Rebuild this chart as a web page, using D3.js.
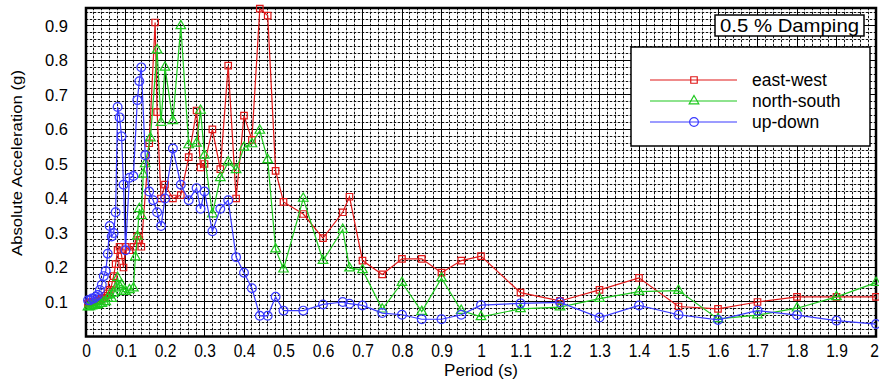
<!DOCTYPE html>
<html>
<head>
<meta charset="utf-8">
<script src="https://cdn.jsdelivr.net/npm/d3@7"></script>
<style>
  body { margin: 0; background: #fff; }
  text { font-family: "Liberation Sans", Arial, sans-serif; }
</style>
</head>
<body>
<div id="chart"></div>
<script>
"use strict";

// east-west
const ewPeriod = [0.005, 0.01, 0.015, 0.02, 0.025, 0.03, 0.035, 0.04, 0.045, 0.05, 0.055, 0.06, 0.065, 0.07, 0.075, 0.08, 0.085, 0.09, 0.095, 0.10, 0.11, 0.12, 0.13, 0.135, 0.14, 0.16, 0.175, 0.18, 0.19, 0.20, 0.22, 0.24, 0.26, 0.28, 0.29, 0.30, 0.32, 0.34, 0.36, 0.38, 0.40, 0.42, 0.44, 0.46, 0.48, 0.50, 0.55, 0.60, 0.65, 0.667, 0.70, 0.75, 0.80, 0.85, 0.90, 0.95, 1.0, 1.1, 1.2, 1.3, 1.4, 1.5, 1.6, 1.7, 1.8, 1.9, 2.0];
const ewAccel = [0.095, 0.098, 0.10, 0.10, 0.102, 0.105, 0.105, 0.11, 0.112, 0.118, 0.125, 0.135, 0.15, 0.175, 0.21, 0.25, 0.26, 0.235, 0.20, 0.26, 0.25, 0.26, 0.29, 0.28, 0.26, 0.56, 0.91, 0.65, 0.40, 0.44, 0.40, 0.41, 0.52, 0.655, 0.49, 0.50, 0.60, 0.485, 0.785, 0.40, 0.64, 0.57, 0.95, 0.93, 0.48, 0.39, 0.355, 0.285, 0.36, 0.405, 0.22, 0.18, 0.225, 0.225, 0.185, 0.22, 0.233, 0.127, 0.103, 0.135, 0.17, 0.087, 0.08, 0.10, 0.115, 0.115, 0.115];

// north-south
const nsPeriod = [0.005, 0.01, 0.015, 0.02, 0.025, 0.03, 0.035, 0.04, 0.045, 0.05, 0.055, 0.06, 0.065, 0.07, 0.075, 0.08, 0.085, 0.09, 0.095, 0.10, 0.11, 0.12, 0.125, 0.13, 0.135, 0.14, 0.145, 0.15, 0.163, 0.18, 0.19, 0.20, 0.22, 0.24, 0.26, 0.28, 0.29, 0.30, 0.32, 0.34, 0.36, 0.38, 0.40, 0.42, 0.44, 0.46, 0.48, 0.50, 0.55, 0.60, 0.65, 0.667, 0.70, 0.75, 0.80, 0.85, 0.90, 0.95, 1.0, 1.1, 1.2, 1.3, 1.4, 1.5, 1.6, 1.7, 1.8, 1.9, 2.0];
const nsAccel = [0.085, 0.086, 0.088, 0.09, 0.09, 0.092, 0.095, 0.095, 0.10, 0.10, 0.11, 0.12, 0.11, 0.125, 0.14, 0.17, 0.145, 0.15, 0.13, 0.13, 0.135, 0.14, 0.23, 0.29, 0.37, 0.35, 0.47, 0.50, 0.575, 0.83, 0.62, 0.78, 0.625, 0.90, 0.555, 0.56, 0.655, 0.525, 0.355, 0.46, 0.505, 0.483, 0.548, 0.558, 0.597, 0.512, 0.253, 0.195, 0.40, 0.22, 0.31, 0.198, 0.193, 0.079, 0.156, 0.072, 0.169, 0.075, 0.057, 0.08, 0.085, 0.11, 0.13, 0.133, 0.051, 0.062, 0.082, 0.115, 0.156];

// up-down
const udPeriod = [0.005, 0.01, 0.015, 0.02, 0.025, 0.03, 0.035, 0.04, 0.045, 0.05, 0.055, 0.06, 0.065, 0.07, 0.075, 0.08, 0.085, 0.09, 0.095, 0.10, 0.11, 0.12, 0.13, 0.135, 0.14, 0.15, 0.16, 0.17, 0.18, 0.19, 0.20, 0.22, 0.24, 0.26, 0.28, 0.29, 0.30, 0.32, 0.34, 0.36, 0.38, 0.40, 0.42, 0.44, 0.46, 0.48, 0.50, 0.55, 0.60, 0.65, 0.667, 0.70, 0.75, 0.80, 0.85, 0.90, 0.95, 1.0, 1.1, 1.2, 1.3, 1.4, 1.5, 1.6, 1.7, 1.8, 1.9, 2.0];
const udAccel = [0.105, 0.105, 0.11, 0.11, 0.115, 0.12, 0.135, 0.15, 0.175, 0.19, 0.24, 0.32, 0.29, 0.30, 0.36, 0.665, 0.635, 0.58, 0.44, 0.25, 0.46, 0.465, 0.685, 0.74, 0.78, 0.525, 0.42, 0.395, 0.36, 0.32, 0.40, 0.545, 0.44, 0.395, 0.43, 0.37, 0.42, 0.305, 0.37, 0.395, 0.23, 0.185, 0.14, 0.06, 0.06, 0.115, 0.075, 0.075, 0.093, 0.10, 0.095, 0.09, 0.068, 0.063, 0.05, 0.05, 0.063, 0.091, 0.096, 0.099, 0.055, 0.09, 0.063, 0.048, 0.075, 0.062, 0.046, 0.036];

const seriesNames = ["east-west", "north-south", "up-down"];
const xTickValues = d3.range(0, 2.001, 0.1);
const yTickValues = d3.range(0.1, 0.95, 0.1);

const svgWidth = 879;
const svgHeight = 382;
const mLeft = 86, mRight = 876, mTop = 8, mBottom = 336.5;

const svg = d3.select("#chart")
  .append("svg")
  .attr("width", svgWidth)
  .attr("height", svgHeight)
;

const xScale = d3.scaleLinear().domain([0, 2]).range([mLeft, mRight]);
const yScale = d3.scaleLinear().domain([0, 0.952]).range([mBottom, mTop]);

// grid: minor dashed every 0.02, major solid every 0.1
const isMajor = v => Math.abs(v * 10 - Math.round(v * 10)) < 1e-6;
const xMinor = d3.range(0.02, 2, 0.02).filter(v => !isMajor(v));
const yMinor = d3.range(0.02, 0.952, 0.02).filter(v => !isMajor(v));

const grid = svg.append("g").attr("shape-rendering", "crispEdges");

// gray base under black dashes, like the original's minor grid
["#c4c4c4", "#111"].forEach((col, k) => {
  grid.append("g").selectAll("line").data(xMinor).enter().append("line")
    .attr("x1", d => xScale(d)).attr("x2", d => xScale(d))
    .attr("y1", mTop).attr("y2", mBottom)
    .attr("stroke", col).attr("stroke-dasharray", k ? "2,2" : null).attr("stroke-width", 1)
  ;
  grid.append("g").selectAll("line").data(yMinor).enter().append("line")
    .attr("y1", d => yScale(d)).attr("y2", d => yScale(d))
    .attr("x1", mLeft).attr("x2", mRight)
    .attr("stroke", col).attr("stroke-dasharray", k ? "2,2" : null).attr("stroke-width", 1)
  ;
});
grid.selectAll(".xmajor").data(xTickValues.slice(1, -1)).enter().append("line")
  .attr("x1", d => xScale(d)).attr("x2", d => xScale(d))
  .attr("y1", mTop).attr("y2", mBottom)
  .attr("stroke", "#000").attr("stroke-width", 1)
;
grid.selectAll(".ymajor").data(yTickValues).enter().append("line")
  .attr("y1", d => yScale(d)).attr("y2", d => yScale(d))
  .attr("x1", mLeft).attr("x2", mRight)
  .attr("stroke", "#000").attr("stroke-width", 1)
;

// axes
const xAxis = d3.axisBottom(xScale).tickValues(xTickValues).tickSize(0).tickPadding(7)
  .tickFormat(d => d3.format("")(+d.toFixed(1)));
const yAxis = d3.axisLeft(yScale).tickValues(yTickValues).tickSize(0).tickPadding(18)
  .tickFormat(d3.format(".1f"));

const gx = svg.append("g")
  .attr("transform", `translate(0, ${mBottom})`)
  .call(xAxis)
;
gx.select(".domain").remove();
gx.selectAll("text")
  .attr("font-size", 19)
  .attr("fill", "#000")
  .attr("transform", (d, i) => i === xTickValues.length - 1 ? "translate(-2,0) scale(0.82,1)" : "scale(0.82,1)")
;

const gy = svg.append("g")
  .attr("transform", `translate(${mLeft}, 0)`)
  .call(yAxis)
;
gy.select(".domain").remove();
gy.selectAll("text").attr("font-size", 16.5).attr("fill", "#000");

// frame
svg.append("rect")
  .attr("x", mLeft).attr("y", mTop)
  .attr("width", mRight - mLeft).attr("height", mBottom - mTop)
  .attr("fill", "none").attr("stroke", "#000").attr("stroke-width", 2.5)
;

// series
const series = [
  { name: seriesNames[0], period: ewPeriod, accel: ewAccel, color: "#e01818", marker: "square" },
  { name: seriesNames[1], period: nsPeriod, accel: nsAccel, color: "#1ec81e", marker: "triangle" },
  { name: seriesNames[2], period: udPeriod, accel: udAccel, color: "#3a3aff", marker: "circle" }
];

const line = d3.line().x(d => xScale(d[0])).y(d => yScale(d[1]));
const symbolOf = {
  square: d3.symbol().type(d3.symbolSquare).size(42),
  triangle: d3.symbol().type(d3.symbolTriangle).size(40),
  circle: d3.symbol().type(d3.symbolCircle).size(60)
};

const plot = svg.append("g");

series.forEach(s => {
  const pts = s.period.map((p, i) => [p, s.accel[i]]);
  const g = plot.append("g");
  g.append("path")
    .datum(pts)
    .attr("d", line)
    .attr("fill", "none")
    .attr("stroke", s.color)
    .attr("stroke-width", 1.2)
  ;
  g.selectAll("path.m")
    .data(pts)
    .enter()
    .append("path")
    .attr("class", "m")
    .attr("d", symbolOf[s.marker])
    .attr("transform", d => `translate(${xScale(d[0])}, ${yScale(d[1])})`)
    .attr("fill", "none")
    .attr("stroke", s.color)
    .attr("stroke-width", 1.2)
  ;
});

// axis titles
svg.append("text")
  .attr("x", (mLeft + mRight) / 2).attr("y", 376)
  .attr("text-anchor", "middle").attr("font-size", 17)
  .attr("textLength", 74).attr("lengthAdjust", "spacingAndGlyphs")
  .text("Period (s)")
;
svg.append("text")
  .attr("transform", "translate(22, 163) rotate(-90)")
  .attr("text-anchor", "middle").attr("font-size", 14)
  .attr("textLength", 186).attr("lengthAdjust", "spacingAndGlyphs")
  .text("Absolute Acceleration (g)")
;

// damping label
svg.append("rect")
  .attr("x", 715).attr("y", 15).attr("width", 149).attr("height", 21)
  .attr("fill", "#fff").attr("stroke", "#000").attr("stroke-width", 1.5)
;
svg.append("text")
  .attr("x", 720).attr("y", 32).attr("font-size", 19)
  .attr("textLength", 139).attr("lengthAdjust", "spacingAndGlyphs")
  .text("0.5 % Damping")
;

// legend
const legend = svg.append("g");
legend.append("rect")
  .attr("x", 631).attr("y", 47).attr("width", 239).attr("height", 99)
  .attr("fill", "#fff").attr("stroke", "#000").attr("stroke-width", 1.5)
;
const legendY = d3.scalePoint().domain(seriesNames).range([80, 122]);
series.forEach(s => {
  const y = legendY(s.name);
  legend.append("line")
    .attr("x1", 650).attr("x2", 737).attr("y1", y).attr("y2", y)
    .attr("stroke", s.color).attr("stroke-width", 1.2)
  ;
  legend.append("path")
    .attr("d", symbolOf[s.marker])
    .attr("transform", `translate(694, ${y})`)
    .attr("fill", "none").attr("stroke", s.color).attr("stroke-width", 1.2)
  ;
  legend.append("text")
    .attr("x", 752).attr("y", y + 6).attr("font-size", 17.5)
    .text(s.name)
  ;
});
</script>
</body>
</html>
